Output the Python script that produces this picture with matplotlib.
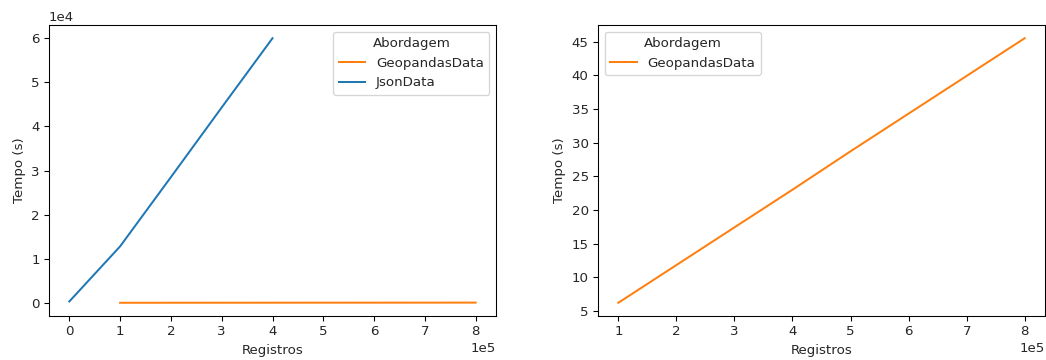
import numpy as np
import matplotlib.pyplot as plt

# registros processados e tempo (s) por abordagem
json_registros = [0, 100000, 200000, 300000, 400000]
json_tempo = [300, 12800, 28500, 44300, 60000]

geo_registros = [100000, 200000, 300000, 400000, 500000, 600000, 700000, 800000]
geo_tempo = [6.2, 11.8, 17.4, 23.0, 28.7, 34.3, 39.9, 45.5]

cor_geo = '#ff7f0e'
cor_json = '#1f77b4'

plt.rcParams['text.color'] = '#262626'
plt.rcParams['axes.labelcolor'] = '#262626'
plt.rcParams['xtick.labelcolor'] = '#262626'
plt.rcParams['ytick.labelcolor'] = '#262626'

dpi = 96
W, H = 1046, 360
fig = plt.figure(figsize=(W / dpi, H / dpi), dpi=dpi)
ax1 = fig.add_axes([49 / W, 1 - 316 / H, (496 - 49) / W, (316 - 25) / H])
ax2 = fig.add_axes([598 / W, 1 - 316 / H, (1045 - 598) / W, (316 - 25) / H])

ax1.plot(geo_registros, geo_tempo, color=cor_geo, lw=1.5, label='GeopandasData')
ax1.plot(json_registros, json_tempo, color=cor_json, lw=1.5, label='JsonData')
ax1.legend(title='Abordagem', loc='upper right')

ax2.plot(geo_registros, geo_tempo, color=cor_geo, lw=1.5, label='GeopandasData')
ax2.legend(title='Abordagem', loc='upper left')

for ax in (ax1, ax2):
    ax.set_xlabel('Registros')
    ax.set_ylabel('Tempo (s)')
    ax.ticklabel_format(axis='x', style='sci', scilimits=(0, 0))
ax1.ticklabel_format(axis='y', style='sci', scilimits=(0, 0))
ax2.set_yticks([5, 10, 15, 20, 25, 30, 35, 40, 45])

fig.savefig('out.png', dpi=dpi)
